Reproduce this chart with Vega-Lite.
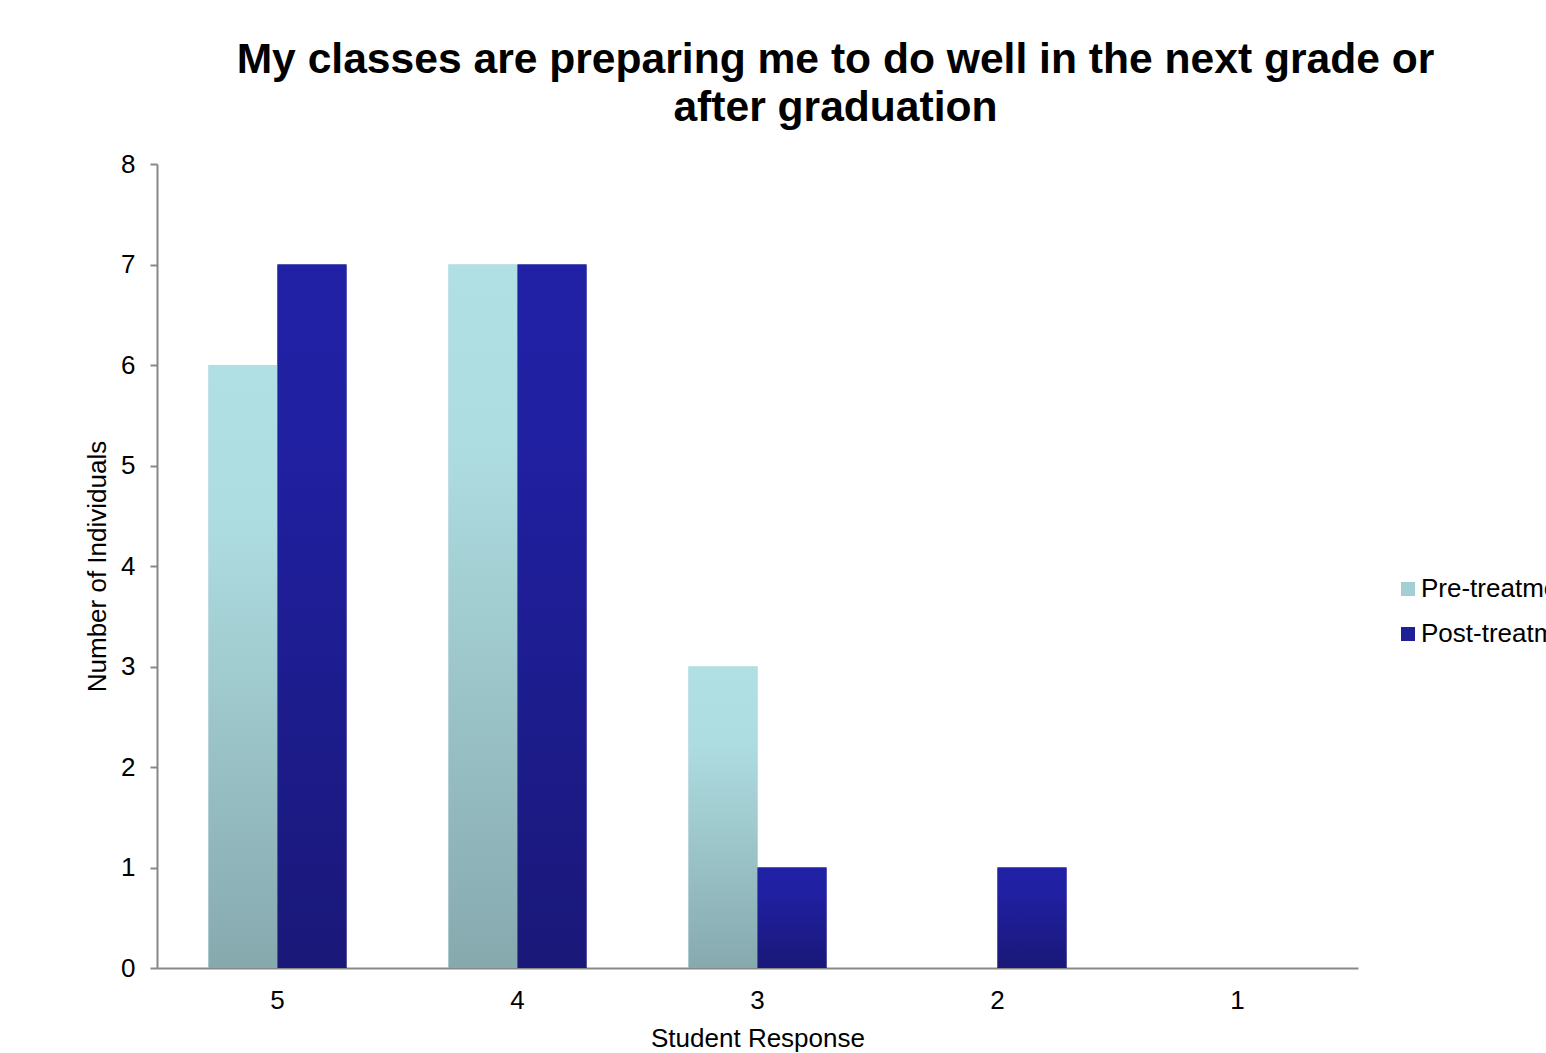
{
  "$schema": "https://vega.github.io/schema/vega-lite/v6.json",
  "width": 1201,
  "height": 804,
  "autosize": {"type": "none"},
  "padding": {"left": 157, "top": 164, "right": 188, "bottom": 85},
  "background": "white",
  "config": {
    "font": "Liberation Sans",
    "view": {"stroke": null},
    "axis": {"grid": false, "domainColor": "#888888", "domainWidth": 2, "tickColor": "#888888", "tickWidth": 2, "labelColor": "black", "titleColor": "black", "labelFont": "Liberation Sans", "titleFont": "Liberation Sans", "labelFontSize": 26, "titleFontSize": 26, "titleFontWeight": "normal"}
  },
  "title": {
    "text": ["My classes are preparing me to do well in the next grade or", "after graduation"],
    "font": "Liberation Sans",
    "fontSize": 42.6,
    "fontWeight": "bold",
    "color": "black",
    "anchor": "middle",
    "dx": 78,
    "offset": 21,
    "lineHeight": 48
  },
  "data": {
    "values": [
      {"Response": "5", "Group": "Pre-treatment", "Count": 6},
      {"Response": "5", "Group": "Post-treatment", "Count": 7},
      {"Response": "4", "Group": "Pre-treatment", "Count": 7},
      {"Response": "4", "Group": "Post-treatment", "Count": 7},
      {"Response": "3", "Group": "Pre-treatment", "Count": 3},
      {"Response": "3", "Group": "Post-treatment", "Count": 1},
      {"Response": "2", "Group": "Pre-treatment", "Count": 0},
      {"Response": "2", "Group": "Post-treatment", "Count": 1},
      {"Response": "1", "Group": "Pre-treatment", "Count": 0},
      {"Response": "1", "Group": "Post-treatment", "Count": 0}
    ]
  },
  "encoding": {
    "x": {
      "field": "Response", "type": "nominal", "sort": ["5", "4", "3", "2", "1"],
      "scale": {"paddingInner": 0.425, "paddingOuter": 0.2145},
      "axis": {"title": "Student Response", "labelAngle": 0, "ticks": false, "labelPadding": 19, "titlePadding": 12}
    },
    "xOffset": {"field": "Group", "type": "nominal", "sort": ["Pre-treatment", "Post-treatment"], "scale": {"paddingInner": 0, "paddingOuter": 0}},
    "y": {
      "field": "Count", "type": "quantitative",
      "scale": {"domain": [0, 8], "nice": false},
      "axis": {"title": "Number of Individuals", "values": [0, 1, 2, 3, 4, 5, 6, 7, 8], "tickSize": 7, "labelPadding": 15, "titlePadding": 10}
    }
  },
  "layer": [
    {
      "mark": {"type": "bar"},
      "encoding": {
        "color": {
          "field": "Group", "type": "nominal",
          "scale": {"domain": ["Pre-treatment", "Post-treatment"], "range": ["#a2cfd3", "#1f1f98"]},
          "legend": {"title": null, "orient": "none", "legendX": 1238, "legendY": 412, "symbolType": "square", "symbolSize": 196, "symbolStrokeWidth": 0, "labelFontSize": 26, "labelFont": "Liberation Sans", "labelColor": "black", "labelOffset": 0, "rowPadding": 19, "labelLimit": 400}
        }
      }
    },
    {
      "transform": [{"filter": "datum.Group === 'Pre-treatment'"}],
      "mark": {"type": "bar", "fill": {"gradient": "linear", "x1": 0, "y1": 0, "x2": 0, "y2": 1, "stops": [{"offset": 0, "color": "#b0e0e4"}, {"offset": 0.25, "color": "#aedde1"}, {"offset": 1, "color": "#86a9ae"}]}}
    },
    {
      "transform": [{"filter": "datum.Group === 'Post-treatment'"}],
      "mark": {"type": "bar", "fill": {"gradient": "linear", "x1": 0, "y1": 0, "x2": 0, "y2": 1, "stops": [{"offset": 0, "color": "#2121a6"}, {"offset": 0.25, "color": "#2020a2"}, {"offset": 1, "color": "#1a1878"}]}}
    }
  ]
}
